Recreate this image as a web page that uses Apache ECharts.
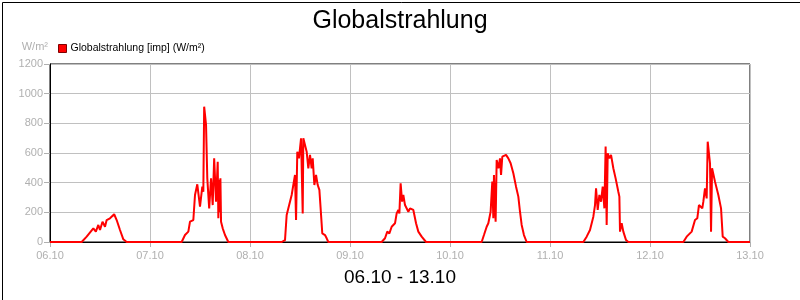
<!DOCTYPE html>
<html><head><meta charset="utf-8">
<script src="https://cdn.jsdelivr.net/npm/echarts@6/dist/echarts.min.js"></script>
<style>html,body{margin:0;padding:0;background:#fff}#c{width:800px;height:300px}</style>
</head><body><div id="c"></div>
<script>
const titleText = "Globalstrahlung";
const subTitle = "06.10 - 13.10";
const seriesName = "Globalstrahlung [imp] (W/m²)";
const unit = "W/m²";
const tickLabels = ["06.10","07.10","08.10","09.10","10.10","11.10","12.10","13.10"];
// hours since 06.10 00:00
const hours = [0,
7.6,8.8,10.4,11.0,11.6,12.0,12.6,13.2,13.6,14.4,15.4,16.0,16.8,17.6,18.4,
31.6,32.4,33.2,33.6,34.4,34.8,35.35,36.0,36.55,36.8,37.0,37.45,37.75,38.2,38.65,39.05,39.4,39.85,40.25,40.4,40.55,40.8,40.9,41.05,41.45,42.0,42.8,
55.6,56.4,56.8,56.95,58.0,58.8,59.05,59.35,59.75,60.25,60.65,60.8,61.2,61.6,62.0,62.4,62.8,63.05,63.45,63.85,64.25,64.65,64.95,65.35,66.0,66.4,66.8,
79.6,80.4,80.95,81.45,82.0,82.4,82.8,83.2,83.6,83.85,84.15,84.5,84.8,85.2,85.6,86.0,86.4,87.2,87.85,88.4,89.2,90.25,
103.6,104.15,104.8,105.2,105.75,106.15,106.4,106.55,106.95,107.2,107.6,108.0,108.25,108.55,108.95,109.45,110.0,110.55,111.2,111.85,112.4,112.8,113.2,113.75,114.4,
128.0,128.8,129.6,130.4,130.8,131.05,131.45,131.85,132.25,132.65,133.05,133.35,133.6,133.85,134.25,134.65,135.2,135.75,136.4,136.65,136.8,137.2,137.6,138.25,138.8,
152.0,152.8,154.0,154.8,155.35,155.75,156.15,156.55,156.8,157.2,157.45,157.6,157.85,158.15,158.4,158.65,158.9,159.6,160.4,161.05,161.45,162.0,162.8,
168];
const values = [0,
0,36,92,70,115,81,137,103,148,160,187,148,81,18,0,
0,47,70,137,148,317,389,238,373,339,912,789,429,227,429,249,564,272,541,160,420,200,430,137,92,47,0,
0,13,182,193,317,452,148,609,564,699,193,699,699,609,497,587,497,564,384,452,384,351,227,58,47,25,0,
0,25,70,58,103,92,126,193,216,193,396,272,317,249,261,204,227,216,126,70,36,0,
0,47,103,126,204,407,160,452,137,553,497,564,452,575,575,587,564,531,463,373,306,204,115,47,0,
0,36,81,171,249,362,216,317,272,373,227,643,115,598,564,587,497,429,339,306,70,126,70,13,0,
0,36,70,148,160,249,261,227,272,362,373,294,676,676,531,70,497,407,317,227,36,25,0,
0];

const data = hours.map((h,i)=>[h, values[i]]);
const font = "Liberation Sans, Arial, sans-serif";
const chart = echarts.init(document.getElementById('c'), null, {renderer:'canvas'});
chart.setOption({
  animation:false,
  backgroundColor:'#fff',
  title:[
    {text:titleText, left:'center', top:4, textStyle:{fontFamily:font, fontSize:25, fontWeight:'normal', color:'#000'}},
    {text:subTitle, left:'center', top:263, textStyle:{fontFamily:font, fontSize:19, fontWeight:'normal', color:'#000'}}
  ],
  legend:{left:53, top:38, icon:'rect', itemWidth:8, itemHeight:8, itemGap:10,
    textStyle:{fontFamily:font, fontSize:10.5, color:'#000', padding:[0,0,0,-1]},
    itemStyle:{borderColor:'#800000', borderWidth:1},
    data:[seriesName]},
  grid:{left:50, right:50, top:64, bottom:58, show:true, borderColor:'#000', borderWidth:1, backgroundColor:'#fff'},
  xAxis:{type:'value', min:0, max:168, interval:24,
    axisLine:{show:true, lineStyle:{color:'#000'}},
    axisTick:{show:true, length:5, lineStyle:{color:'#b0b0b0'}},
    splitLine:{show:true, lineStyle:{color:'#c0c0c0', width:1}},
    axisLabel:{margin:8, color:'#b0b0b0', fontFamily:font, fontSize:11,
      formatter:(v)=>tickLabels[Math.round(v/24)] || ''}},
  yAxis:{type:'value', min:0, max:1200, interval:200,
    name:unit, nameLocation:'end', nameGap:12,
    nameTextStyle:{fontFamily:font, fontSize:11, color:'#b0b0b0', align:'right', padding:[0,2,0,0]},
    axisLine:{show:true, lineStyle:{color:'#000'}},
    axisTick:{show:true, length:6, lineStyle:{color:'#b0b0b0'}},
    splitLine:{show:true, lineStyle:{color:'#c0c0c0', width:1}},
    axisLabel:{margin:7, color:'#b0b0b0', fontFamily:font, fontSize:11, formatter:(v)=>String(v)}},
  series:[{name:seriesName, type:'line', data:data, showSymbol:false, symbol:'none',
    lineStyle:{color:'#ff0000', width:2}, itemStyle:{color:'#ff0000'}}],
  graphic:[{type:'rect', left:0, top:0, shape:{x:0,y:0,width:799,height:299},
    style:{fill:null, stroke:'#000', lineWidth:1}, silent:true, z:100}]
});
</script></body></html>
